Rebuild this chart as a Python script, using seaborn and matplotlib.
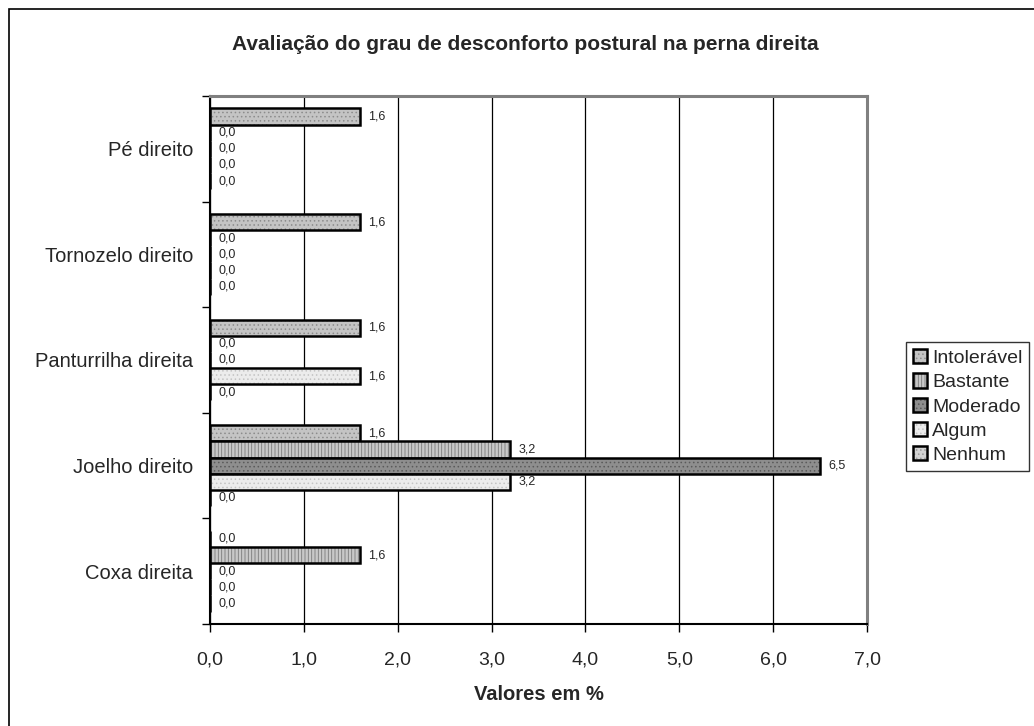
import matplotlib
matplotlib.use("Agg")
import matplotlib.pyplot as plt
import matplotlib.patches as mpatches
from matplotlib.ticker import FuncFormatter
import seaborn as sns
import pandas as pd

sns.set_theme(style="white")
plt.rcParams['font.family'] = ['Liberation Sans', 'DejaVu Sans']
plt.rcParams['hatch.linewidth'] = 0.6

# data (values in %)
parts = ['Pé direito', 'Tornozelo direito', 'Panturrilha direita', 'Joelho direito', 'Coxa direita']
levels = ['Intolerável', 'Bastante', 'Moderado', 'Algum', 'Nenhum']
intoleravel = [1.6, 1.6, 1.6, 1.6, 0.0]
bastante = [0.0, 0.0, 0.0, 3.2, 1.6]
moderado = [0.0, 0.0, 0.0, 6.5, 0.0]
algum = [0.0, 0.0, 1.6, 3.2, 0.0]
nenhum = [0.0, 0.0, 0.0, 0.0, 0.0]

series = dict(zip(levels, [intoleravel, bastante, moderado, algum, nenhum]))
df = pd.DataFrame([(p, lv, series[lv][i]) for lv in levels for i, p in enumerate(parts)],
                  columns=['Parte', 'Grau', 'Valor'])

# fill / hatch per level (imitating the old Excel patterns)
styles = {
    'Intolerável': ('#c4c4c4', '....', '#8c8c8c'),
    'Bastante':    ('#c8c8c8', '|||||', '#7a7a7a'),
    'Moderado':    ('#8e8e8e', '....', '#5a5a5a'),
    'Algum':       ('#ececec', '....', '#c4c4c4'),
    'Nenhum':      ('#d4d4d4', '....', '#9a9a9a'),
}


def style_patch(p, lv):
    fc, hatch, hc = styles[lv]
    p.set_facecolor(fc)
    p.set_edgecolor('black')
    p.set_linewidth(1.8)
    p.set_hatch(hatch)
    if hasattr(p, 'set_hatchcolor'):
        p.set_hatchcolor(hc)
    else:
        p._hatch_color = matplotlib.colors.to_rgba(hc)


fig = plt.figure(figsize=(10.34, 7.26), dpi=100)
ax = fig.add_axes([0.203, 0.1405, 0.6355, 0.7273])

sns.barplot(data=df, x='Valor', y='Parte', hue='Grau', order=parts, hue_order=levels,
            orient='h', width=0.764, gap=0, ax=ax, errorbar=None, legend=False)

for lv, cont in zip(levels, ax.containers):
    for bar in cont:
        style_patch(bar, lv)
    labels = [f"{v:.1f}".replace('.', ',') for v in cont.datavalues]
    ax.bar_label(cont, labels=labels, padding=6, fontsize=9)

ax.set_xlim(0, 7)
ax.set_xticks(range(8))
ax.xaxis.set_major_formatter(FuncFormatter(lambda v, p: f"{v:.1f}".replace('.', ',')))
ax.grid(axis='x', color='black', linewidth=0.9)
ax.set_axisbelow(True)

ax.set_yticks(range(len(parts)), parts)
ax.set_yticks([i - 0.5 for i in range(len(parts) + 1)], minor=True)
ax.tick_params(axis='y', which='major', length=0, labelsize=14.5, pad=12)
ax.tick_params(axis='y', which='minor', left=True, length=6, width=1, color='black')
ax.tick_params(axis='x', bottom=True, length=6, width=1, color='black', labelsize=14, pad=14)

for s in ['left', 'bottom']:
    ax.spines[s].set_color('black')
    ax.spines[s].set_linewidth(1.5)
for s in ['top', 'right']:
    ax.spines[s].set_color('#808080')
    ax.spines[s].set_linewidth(2.2)

ax.set_ylabel('')
ax.set_xlabel('Valores em %', fontsize=14.5, fontweight='bold', labelpad=12)
fig.text(0.508, 0.939, 'Avaliação do grau de desconforto postural na perna direita',
         ha='center', va='center', fontsize=15, fontweight='bold')

handles = []
for lv in levels:
    h = mpatches.Patch(label=lv)
    style_patch(h, lv)
    handles.append(h)
leg = fig.legend(handles=handles, loc='center left', bbox_to_anchor=(0.876, 0.44),
                 fontsize=14, frameon=True, fancybox=False, handlelength=0.75,
                 handleheight=0.75, handletextpad=0.25, labelspacing=0.33,
                 borderpad=0.35, borderaxespad=0)
leg.get_frame().set_edgecolor('black')
leg.get_frame().set_linewidth(1.0)

# outer chart-area frame (only left/top edges are visible in the original)
fig.patches.append(mpatches.Rectangle((9 / 1034, -0.1), 1.2, 1.1 - 9 / 726,
                                      transform=fig.transFigure, fill=False,
                                      edgecolor='black', linewidth=1.2))

fig.savefig('out.png', dpi=100)
